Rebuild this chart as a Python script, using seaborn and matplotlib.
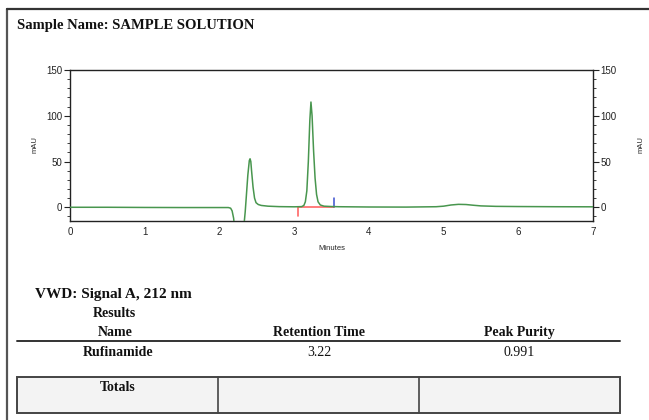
import matplotlib
matplotlib.use("Agg")
import matplotlib.pyplot as plt
from matplotlib.lines import Line2D
from matplotlib.patches import Rectangle
from matplotlib.ticker import MultipleLocator
import seaborn as sns
import pandas as pd

# ---- chromatogram points ----
time_min = [0.0, 0.5, 1.0, 1.5, 2.0, 2.12, 2.15, 2.17, 2.19, 2.20, 2.22, 2.26, 2.30,
            2.33, 2.345, 2.36, 2.38, 2.40, 2.41, 2.42, 2.43, 2.45, 2.47, 2.49, 2.52,
            2.56, 2.65, 2.8, 3.0, 3.10, 3.13, 3.15, 3.17, 3.19, 3.21, 3.225, 3.24,
            3.26, 3.28, 3.30, 3.32, 3.35, 3.40, 3.5, 3.6, 4.0, 4.5, 4.9, 5.0, 5.1,
            5.2, 5.3, 5.4, 5.5, 5.7, 6.0, 6.5, 7.0]
signal_mau = [0.0, 0.0, -0.2, -0.3, -0.3, -0.3, -1.0, -4.0, -12.0, -20.0, -30.0, -35.0, -30.0,
              -18.0, -5.0, 12.0, 35.0, 51.0, 53.0, 50.0, 40.0, 22.0, 10.0, 5.0, 3.0,
              2.0, 1.2, 0.7, 0.5, 0.7, 2.0, 6.0, 18.0, 50.0, 95.0, 115.0, 100.0,
              62.0, 32.0, 14.0, 6.0, 2.5, 1.2, 0.8, 0.6, 0.3, 0.2, 0.6, 1.2, 2.5,
              3.2, 3.0, 2.2, 1.5, 1.0, 0.8, 0.6, 0.5]

# integration markers
baseline_start = 3.05
baseline_end = 3.53
start_tick = [-10, 0]
end_tick = [0, 10]

# axis ticks
x_ticks = [0, 1, 2, 3, 4, 5, 6, 7]
y_ticks = [0, 50, 100, 150]

# results table
table_title = "VWD: Signal A, 212 nm"
col_names = ["Name", "Retention Time", "Peak Purity"]
row_values = ["Rufinamide", "3.22", "0.991"]
totals_label = "Totals"

sns.set_style("white")
plt.rcParams["font.family"] = ["Liberation Sans", "DejaVu Sans"]

W, H = 649, 420
fig = plt.figure(figsize=(W / 100, H / 100), dpi=100)

def fx(px):
    return px / W

def fy(py):
    return 1 - py / H

# page frame
fig.add_artist(Line2D([fx(7), fx(7)], [fy(9), 0], color="#555555", lw=1.6))
fig.add_artist(Line2D([fx(7), 1], [fy(9), fy(9)], color="#333333", lw=1.6))

fig.text(fx(17), fy(25), "Sample Name: SAMPLE SOLUTION", family="Liberation Serif",
         fontweight="bold", fontsize=10.5, va="center", ha="left", color="#111111")

ax = fig.add_axes([fx(70), fy(221), fx(593) - fx(70), fy(70) - fy(221)])
df = pd.DataFrame({"Minutes": time_min, "mAU": signal_mau})

ax.plot([baseline_start, baseline_start, baseline_end], [start_tick[0], start_tick[1], 0],
        color="#ff6666", lw=1.2, zorder=2)
ax.plot([baseline_end, baseline_end], end_tick, color="#3a4fd0", lw=1.1, zorder=2)
sns.lineplot(data=df, x="Minutes", y="mAU", ax=ax, color="#48964e", lw=1.1,
             zorder=3, estimator=None, sort=False)

ax.set_xlim(0, 7)
ax.set_ylim(-15, 150)
ax.set_xticks(x_ticks)
ax.set_yticks(y_ticks)
ax.xaxis.set_minor_locator(MultipleLocator(0.1))
ax.yaxis.set_minor_locator(MultipleLocator(10))
for s in ax.spines.values():
    s.set_visible(True)
    s.set_color("#222222")
    s.set_linewidth(1.0)
ax.tick_params(axis="x", which="major", direction="in", length=4, width=0.8,
               labelsize=7, pad=4, colors="#222222")
ax.tick_params(axis="x", which="minor", direction="in", length=2, width=0.6,
               colors="#222222")
ax.tick_params(axis="y", which="major", direction="out", length=4, width=0.8,
               labelsize=7, pad=1.5, left=True, right=True, labelleft=True,
               labelright=True, colors="#222222")
ax.tick_params(axis="y", which="minor", direction="out", length=2, width=0.6,
               left=True, right=True, colors="#222222")
ax.set_xlabel("Minutes", fontsize=5.5, labelpad=6)
ax.set_ylabel("")
fig.text(fx(35), fy(145), "mAU", rotation=90, fontsize=5.5, ha="center", va="center")
fig.text(fx(641), fy(145), "mAU", rotation=90, fontsize=5.5, ha="center", va="center")

# results section
serif = "Liberation Serif"
fig.text(fx(35), fy(298), table_title, family=serif, fontweight="bold",
         fontsize=11, ha="left", va="baseline", color="#111111")
fig.text(fx(114), fy(317), "Results", family=serif, fontweight="bold",
         fontsize=10, ha="center", va="baseline", color="#111111")
col_x = [115, 319, 519]
for cx, name in zip(col_x, col_names):
    fig.text(fx(cx), fy(336), name, family=serif, fontweight="bold",
             fontsize=10, ha="center", va="baseline", color="#111111")
fig.add_artist(Line2D([fx(17), fx(620)], [fy(341), fy(341)], color="#333333", lw=1.4))
for i, (cx, val) in enumerate(zip([118, 319, 519], row_values)):
    fig.text(fx(cx), fy(356), val, family=serif, fontweight="bold" if i == 0 else "normal",
             fontsize=10, ha="center", va="baseline", color="#111111")

fig.add_artist(Rectangle((fx(17), fy(413)), fx(620) - fx(17), fy(377) - fy(413),
                         facecolor="#f3f3f3", edgecolor="#444444", lw=1.4,
                         transform=fig.transFigure))
for dx in [218, 419]:
    fig.add_artist(Line2D([fx(dx), fx(dx)], [fy(377), fy(413)], color="#444444", lw=1.2))
fig.text(fx(118), fy(391), totals_label, family=serif, fontweight="bold",
         fontsize=10, ha="center", va="baseline", color="#111111")

fig.savefig("out.png", dpi=100)
